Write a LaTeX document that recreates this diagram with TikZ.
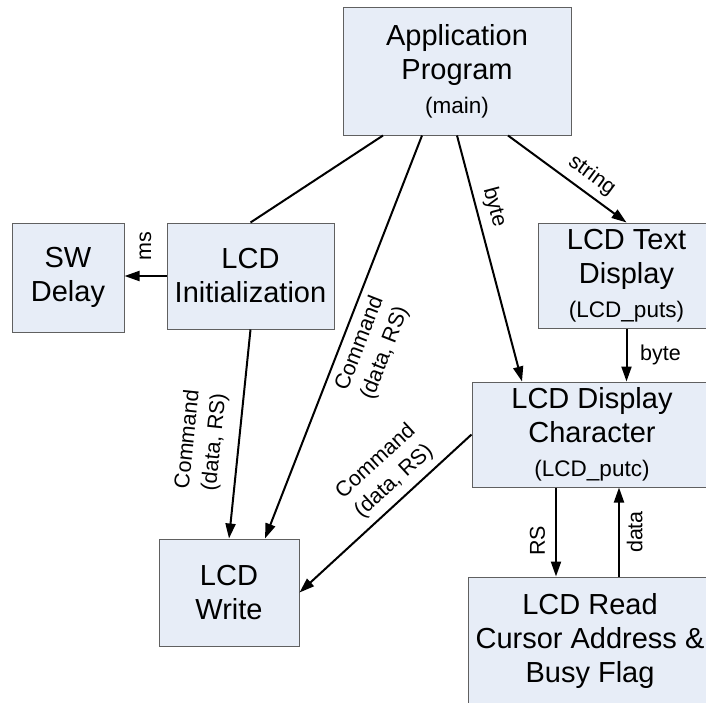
\documentclass[tikz,border=0pt]{standalone}
\usepackage{fontspec}
\setmainfont{Liberation Sans}
\usetikzlibrary{arrows.meta,calc}

\definecolor{boxfill}{RGB}{231,237,247}
\definecolor{boxline}{RGB}{96,96,96}
\newcommand{\blockfont}{\fontsize{14.5}{17}\selectfont}
\newcommand{\namefont}{\fontsize{11.25}{13}\selectfont}
\newcommand{\edgefont}{\fontsize{10.75}{13.5}\selectfont}

\tikzset{
  block/.style={draw=boxline,fill=boxfill,line width=0.5pt,align=center,
    font=\blockfont,inner sep=0pt},
  link/.style={line width=1pt},
  flow/.style={link,-{Triangle[length=7.5pt,width=5pt]}},
  tag/.style={font=\edgefont,align=center},
}

\begin{document}
\begin{tikzpicture}[x=0.5pt,y=-0.5pt]
\clip (0,0) rectangle (706,702);
% boxes
\node[block,minimum width=114pt,minimum height=64pt] (main) at (457,71) {Application\\Program\\{\namefont (main)}};
\node[block,minimum width=56pt,minimum height=54.5pt] (delay) at (68,277.5) {SW\\Delay};
\node[block,minimum width=83.5pt,minimum height=53pt] (init) at (250.5,276) {LCD\\Initialization};
\node[block,minimum width=88.5pt,minimum height=52.5pt] (puts) at (626.5,275.5) {LCD Text\\Display\\{\namefont (LCD\_puts)}};
\node[block,minimum width=120pt,minimum height=52.5pt] (putc) at (592,434.5) {LCD Display\\Character\\{\namefont (LCD\_putc)}};
\node[block,minimum width=70pt,minimum height=53.5pt] (write) at (229,592.5) {LCD\\Write};
\node[block,minimum width=122pt,minimum height=64pt] (read) at (590,641) {LCD Read\\Cursor Address \&\\Busy Flag};

% calls from main
\draw[link] ($(main.south)+(-74,0)$) -- (init.north);
\draw[flow] ($(main.south)+(-35,0)$) -- ($(write.north)+(36,0)$)
  node[midway,sloped,below,tag] (cmdmain) {Command\\(data, RS)};
\draw[flow] (main.south) -- ($(putc.north)+(-70,0)$)
  node[pos=0.31,sloped,above,tag] (bytemain) {byte};
\draw[flow] ($(main.south)+(51,0)$) -- (puts.north)
  node[pos=0.62,sloped,above,tag] (strmain) {string};

% init
\draw[flow] (init.west) -- (init.west -| delay.east)
  node[midway,rotate=90,anchor=west,tag,inner sep=7.5pt] (msinit) {ms};
\draw[flow] (init.south) -- (write.north)
  node[pos=0.55,sloped,above=3pt,tag] (cmdinit) {Command\\(data, RS)};

% character output
\draw[flow] (puts.south) -- (puts.south |- putc.north)
  node[midway,right=3pt,tag] (byteputs) {byte};
\draw[flow] (putc.west) -- (write.east)
  node[pos=0.38,sloped,above,tag] (cmdputc) {Command\\(data, RS)};
\coordinate (rs) at ($(putc.south)+(-36,0)$);
\draw[flow] (rs) -- (rs |- read.north)
  node[pos=0.6,rotate=90,anchor=south,tag,inner sep=5pt] (rsputc) {RS};
\coordinate (dt) at ($(read.north)+(29,0)$);
\draw[flow] (dt) -- (dt |- putc.south)
  node[midway,rotate=90,anchor=north,tag] (dtread) {data};
\end{tikzpicture}
\end{document}
